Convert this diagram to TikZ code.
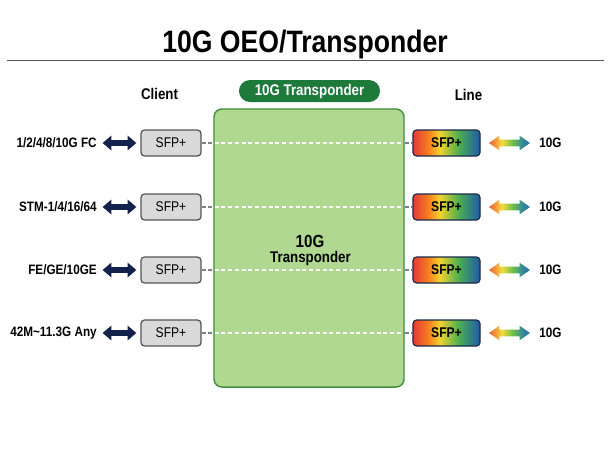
\documentclass[tikz,border=0pt]{standalone}
\usepackage{fontspec}
\setmainfont{Liberation Sans}[FakeStretch=0.86]
\usetikzlibrary{positioning,arrows.meta,shapes.arrows}

\definecolor{navyarr}{HTML}{13214D}
\definecolor{boxgray}{HTML}{555555}
\definecolor{boxfill}{HTML}{D9D9D9}
\definecolor{tpfill}{HTML}{B1D890}
\definecolor{tpedge}{HTML}{3E8E41}
\definecolor{badgegreen}{HTML}{1E7A3A}
\definecolor{sfpred}{HTML}{E53935}
\definecolor{sfporange}{HTML}{F57C20}
\definecolor{sfpyellow}{HTML}{F2D22E}
\definecolor{sfpgreen}{HTML}{4CAF50}
\definecolor{sfpblue}{HTML}{1E5AA8}
\definecolor{sfpedge}{HTML}{1A2A4A}
\definecolor{arrred}{HTML}{EE5A3C}
\definecolor{arryellow}{HTML}{F4DC3A}
\definecolor{arrgreen}{HTML}{6CBF4A}
\definecolor{arrteal}{HTML}{2B7FA5}

\pgfdeclarehorizontalshading{sfpshade}{100bp}{color(0bp)=(sfpred); color(25bp)=(sfpred);
  color(36bp)=(sfporange); color(45bp)=(sfpyellow); color(59bp)=(sfpgreen);
  color(75bp)=(sfpblue); color(100bp)=(sfpblue)}
\pgfdeclarehorizontalshading{arrshade}{100bp}{color(0bp)=(arrred); color(25bp)=(arrred);
  color(41bp)=(arryellow); color(54bp)=(arrgreen); color(68bp)=(arrteal); color(100bp)=(arrteal)}

\tikzset{>=stealth,
  head/.style={font=\bfseries\fontsize{11}{13}\selectfont, inner sep=0pt},
  lbl/.style={font=\bfseries\fontsize{9.7}{12}\selectfont, inner sep=0pt},
  clientbox/.style={draw=boxgray, fill=boxfill, rounded corners=2.5pt, line width=0.9pt,
    minimum width=1.5cm, minimum height=0.65cm, inner sep=0pt, font=\fontsize{10}{12}\selectfont},
  linebox/.style={draw=sfpedge, shading=sfpshade, rounded corners=2.5pt, line width=0.8pt,
    minimum width=1.675cm, minimum height=0.65cm, inner sep=0pt, font=\bfseries\fontsize{10}{12}\selectfont},
  tpbox/.style={draw=tpedge, fill=tpfill, rounded corners=0.2cm, line width=1pt,
    minimum width=4.75cm, minimum height=6.95cm, inner sep=0pt},
  badge/.style={fill=badgegreen, text=white, rounded corners=0.275cm, minimum width=3.525cm,
    minimum height=0.55cm, inner sep=0pt, font=\bfseries\fontsize{11}{13}\selectfont},
  navyarrow/.style={draw=navyarr, line width=3.8pt,
    arrows={Triangle[length=0.22cm,width=0.36cm]-Triangle[length=0.22cm,width=0.36cm]},
    shorten <=0.14cm, shorten >=0.1cm},
  rainarrow/.style={double arrow, shading=arrshade, minimum height=1.025cm,
    inner xsep=0pt, inner ysep=0.075cm, double arrow head extend=0.1cm,
    double arrow tip angle=70},
  dashln/.style={draw=gray, line width=0.8pt, dash pattern=on 2.8pt off 2pt}
}

\begin{document}
\begin{tikzpicture}[x=0.025cm, y=-0.025cm]
  \useasboundingbox (0,0) rectangle (610,450);

  % title
  \node[font=\bfseries\fontsize{22}{26}\selectfont, anchor=base, inner sep=0pt] (title) at (305,52) {10G OEO/Transponder};
  \draw[boxgray, line width=1.4pt] (7,60.5) -- (604,60.5);

  \node[head] (client) at (159.5,94) {Client};
  \node[head] (line) at (468.5,95) {Line};

  % transponder
  \node[tpbox] (tp) at (309,248) {};
  \node[badge] (tpbadge) at (309.5,91) {10G Transponder};
  \node[font=\bfseries\fontsize{12.5}{15}\selectfont] (tpnum) at (310,241) {10G};
  \node[font=\bfseries\fontsize{11}{13}\selectfont] (tpname) at (310.5,258) {Transponder};

  % rows
  \foreach \i/\y/\txt in {1/143/{1/2/4/8/10G FC}, 2/207/{STM-1/4/16/64}, 3/270/{FE/GE/10GE}, 4/333/{42M\textasciitilde 11.3G Any}}{
    \node[lbl, anchor=east] (cl\i) at (97,\y) {\txt};
    \node[clientbox] (cs\i) at (171,\y) {SFP+};
    \node[linebox] (ls\i) at (446.5,\y) {SFP+};
    \node[rainarrow] (ra\i) at (509.5,\y) {};
    \node[lbl] (lr\i) at (550.5,\y) {10G};
    \draw[navyarrow] (cl\i) -- (cs\i);
    \draw[dashln] (cs\i) -- (cs\i -| tp.west);
    \draw[dashln, draw=white, shorten <=1pt, shorten >=1pt] (cs\i -| tp.west) -- (cs\i -| tp.east);
    \draw[dashln] (cs\i -| tp.east) -- (ls\i);
  }
\end{tikzpicture}
\end{document}
